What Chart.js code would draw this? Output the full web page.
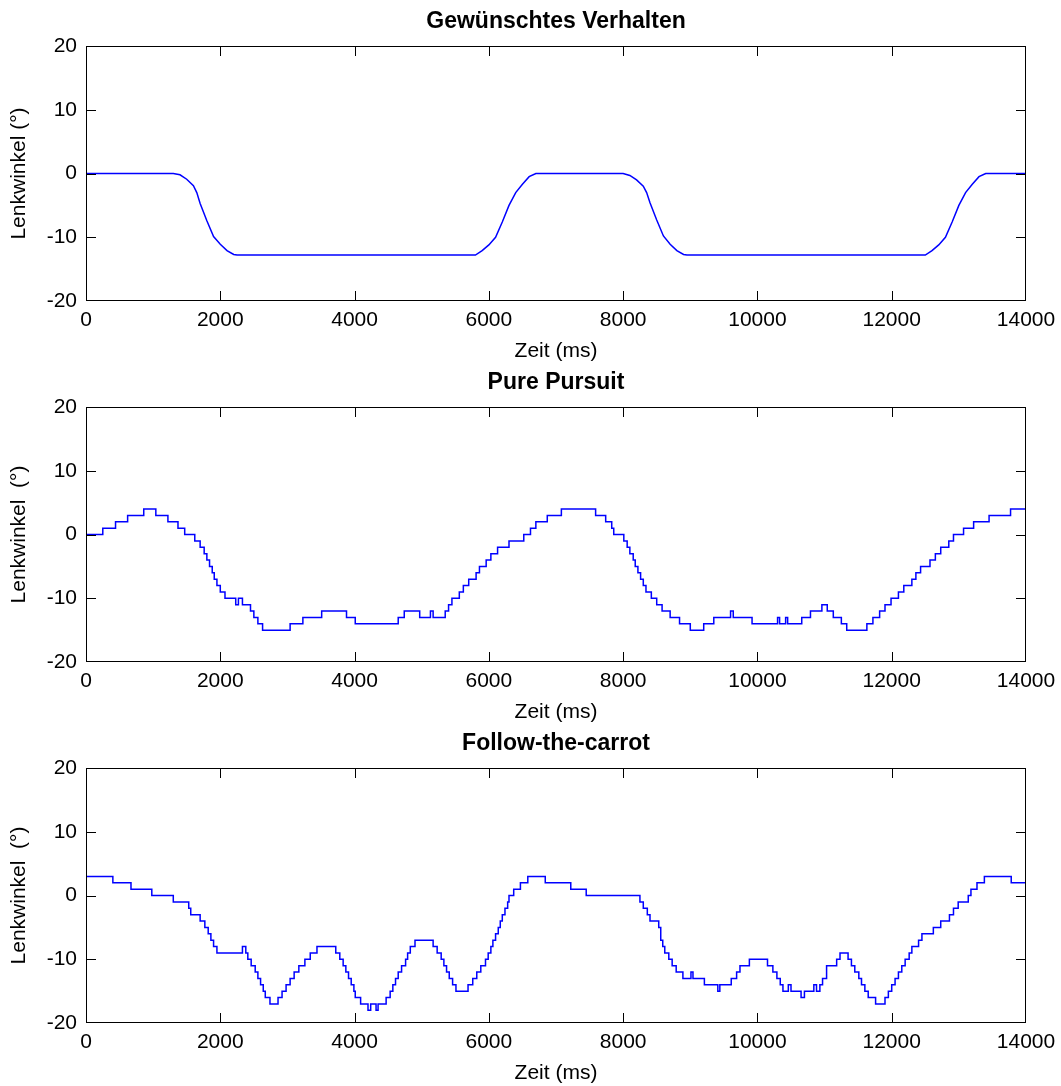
<!DOCTYPE html>
<html>
<head>
<meta charset="utf-8">
<script src="https://cdn.jsdelivr.net/npm/chart.js@4"></script>
<style>
    body { margin: 0; background: #fff; }
    #wrap { position: relative; width: 1061px; height: 1086px; }
    canvas { position: absolute; left: 0; }
</style>
</head>
<body>
<div id="wrap">
    <canvas id="c0" width="1061" height="361" style="top:0"></canvas>
    <canvas id="c1" width="1061" height="361" style="top:361px"></canvas>
    <canvas id="c2" width="1061" height="361" style="top:722px"></canvas>
</div>
<script>
const chartTitles = ["Gewünschtes Verhalten", "Pure Pursuit", "Follow-the-carrot"]
const yLabels = ["Lenkwinkel (°)", "Lenkwinkel  (°)", "Lenkwinkel  (°)"]
const xLabel = "Zeit (ms)"
const xTickValues = [0, 2000, 4000, 6000, 8000, 10000, 12000, 14000]
const yTickValues = [-20, -10, 0, 10, 20]

// desired steering angle (smooth)
const desiredTime = [0, 1300, 1400, 1500, 1600, 1650, 1700, 1800, 1900, 2000, 2100, 2200, 2250,
    5800, 5900, 6000, 6100, 6200, 6300, 6400, 6500, 6600, 6700,
    8000, 8100, 8200, 8300, 8350, 8400, 8500, 8600, 8700, 8800, 8900, 8950,
    12500, 12600, 12700, 12800, 12900, 13000, 13100, 13200, 13300, 13400, 14000]
const desiredAngle = [0, 0, -0.2, -0.9, -1.9, -3, -4.7, -7.4, -9.9, -11.1, -12.1, -12.7, -12.8,
    -12.8, -12.1, -11.2, -10, -7.6, -5, -3, -1.7, -0.5, 0,
    0, -0.3, -1, -2, -3, -4.6, -7.3, -9.8, -11.1, -12.1, -12.7, -12.8,
    -12.8, -12.1, -11.2, -10, -7.6, -5, -3, -1.7, -0.5, 0, 0]

// pure pursuit (each entry = start of a plateau)
const pursuitTime = [0, 250, 440, 620, 860, 1040, 1220, 1370, 1470, 1620, 1700, 1760, 1800, 1840,
    1880, 1910, 1950, 2000, 2070, 2230, 2270, 2330, 2450, 2500, 2560, 2630, 3040, 3230, 3510,
    3880, 4010, 4650, 4740, 4970, 5130, 5170, 5350, 5400, 5450, 5560, 5620, 5700, 5810, 5860,
    5960, 6030, 6130, 6300, 6520, 6620, 6700, 6870, 7080, 7590, 7740, 7830, 7860, 8010, 8060,
    8100, 8150, 8180, 8220, 8260, 8300, 8340, 8420, 8500, 8580, 8700, 8840, 9000, 9200, 9350,
    9600, 9640, 9920, 10300, 10330, 10420, 10450, 10660, 10790, 10960, 11040, 11130, 11250,
    11330, 11630, 11720, 11820, 11900, 11990, 12100, 12180, 12300, 12360, 12430, 12570, 12650,
    12730, 12850, 12920, 13070, 13220, 13450, 13770, 14000]
const pursuitAngle = [0, 1, 2, 3, 4, 3, 2, 1, 0, -1, -2, -3, -4, -5,
    -6, -7, -8, -9, -10, -11, -10, -11, -12, -13, -14, -15, -14, -13, -12,
    -13, -14, -13, -12, -13, -12, -13, -12, -11, -10, -9, -8, -7, -6, -5,
    -4, -3, -2, -1, 0, 1, 2, 3, 4, 3, 2, 1, 0, -1, -2,
    -3, -4, -5, -6, -7, -8, -9, -10, -11, -12, -13, -14, -15, -14, -13,
    -12, -13, -14, -13, -14, -13, -14, -13, -12, -11, -12, -13, -14,
    -15, -14, -13, -12, -11, -10, -9, -8, -7, -6, -5, -4, -3,
    -2, -1, 0, 1, 2, 3, 4, 4]

// follow-the-carrot (each entry = start of a plateau)
const carrotTime = [0, 400, 670, 980, 1300, 1530, 1560, 1700, 1770, 1820, 1860, 1900, 1950,
    2330, 2380, 2410, 2460, 2520, 2560, 2600, 2640, 2670, 2740, 2860, 2920, 2980, 3040, 3100,
    3170, 3260, 3340, 3440, 3720, 3780, 3830, 3870, 3910, 3950, 3990, 4010, 4090, 4200, 4240,
    4320, 4350, 4470, 4530, 4570, 4610, 4650, 4700, 4760, 4790, 4830, 4900, 5170, 5230, 5290,
    5330, 5370, 5410, 5460, 5510, 5690, 5760, 5820, 5880, 5950, 5990, 6030, 6060, 6100, 6140,
    6170, 6200, 6240, 6280, 6300, 6370, 6470, 6580, 6840, 7220, 7450, 8250, 8300, 8360, 8400,
    8530, 8560, 8590, 8620, 8680, 8730, 8790, 8890, 9010, 9040, 9210, 9410, 9440, 9610, 9690,
    9740, 9880, 10150, 10230, 10290, 10340, 10380, 10460, 10500, 10650, 10700, 10840, 10880,
    10930, 10970, 11030, 11180, 11230, 11350, 11400, 11450, 11510, 11550, 11600, 11650, 11760,
    11900, 11950, 12000, 12050, 12100, 12150, 12200, 12260, 12300, 12400, 12450, 12620, 12730,
    12860, 12920, 12990, 13140, 13180, 13270, 13380, 13780, 14000]
const carrotAngle = [3, 2, 1, 0, -1, -2, -3, -4, -5, -6, -7, -8, -9,
    -8, -9, -10, -11, -12, -13, -14, -15, -16, -17, -16, -15, -14, -13, -12,
    -11, -10, -9, -8, -9, -10, -11, -12, -13, -14, -15, -16, -17, -18, -17,
    -18, -17, -16, -15, -14, -13, -12, -11, -10, -9, -8, -7, -8, -9, -10,
    -11, -12, -13, -14, -15, -14, -13, -12, -11, -10, -9, -8, -7, -6, -5,
    -4, -3, -2, -1, 0, 1, 2, 3, 2, 1, 0, -1, -2, -3, -4,
    -5, -7, -8, -9, -10, -11, -12, -13, -12, -13, -14, -15, -14, -13, -12,
    -11, -10, -11, -12, -13, -14, -15, -14, -15, -16, -15, -14, -15,
    -14, -13, -11, -10, -9, -10, -11, -12, -13, -14, -15, -16, -17,
    -16, -15, -14, -13, -12, -11, -10, -9, -8, -7, -6, -5, -4,
    -3, -2, -1, 0, 1, 2, 3, 2, 2]

const series = [
    [desiredTime, desiredAngle, false],
    [pursuitTime, pursuitAngle, 'before'],
    [carrotTime, carrotAngle, 'before'],
]

Chart.defaults.color = "#000"
Chart.defaults.font.family = "'Liberation Sans', Arial, sans-serif"

// MATLAB style box with inward ticks on all four sides
const boxTicks = {
    id: "boxTicks",
    afterDatasetsDraw(chart) {
        const {ctx, chartArea: a, scales: {x, y}} = chart
        ctx.save()
        ctx.strokeStyle = "#000"
        ctx.lineWidth = 1
        ctx.beginPath()
        ctx.rect(a.left + 0.5, a.top + 0.5, a.right - a.left - 1, a.bottom - a.top - 1)
        for(let v of xTickValues) {
            const px = Math.min(Math.round(x.getPixelForValue(v)), Math.round(a.right) - 1) + 0.5
            ctx.moveTo(px, a.bottom)
            ctx.lineTo(px, a.bottom - 10)
            ctx.moveTo(px, a.top)
            ctx.lineTo(px, a.top + 10)
        }
        for(let v of yTickValues) {
            const py = Math.min(Math.round(y.getPixelForValue(v)), Math.round(a.bottom) - 1) + 0.5
            ctx.moveTo(a.left, py)
            ctx.lineTo(a.left + 10, py)
            ctx.moveTo(a.right, py)
            ctx.lineTo(a.right - 10, py)
        }
        ctx.stroke()
        ctx.restore()
    }
}

series.forEach(([times, angles, stepped], i) => {
    new Chart(document.getElementById("c" + i), {
        type: "line",
        data: {
            datasets: [{
                data: times.map((t, j) => ({x: t, y: angles[j]})),
                borderColor: "#0000ff",
                borderWidth: 1.5,
                pointRadius: 0,
                stepped: stepped,
                tension: 0,
            }]
        },
        options: {
            responsive: false,
            animation: false,
            layout: {padding: {left: 0, right: 35, top: 0, bottom: 0}},
            plugins: {
                legend: {display: false},
                tooltip: {enabled: false},
                title: {
                    display: true,
                    text: chartTitles[i],
                    fullSize: false,
                    font: {size: 23, weight: "bold"},
                    padding: {top: 8, bottom: 10.4},
                },
            },
            scales: {
                x: {
                    type: "linear",
                    min: 0,
                    max: 14000,
                    afterBuildTicks: s => { s.ticks = xTickValues.map(v => ({value: v})) },
                    afterFit: s => { s.height = 60; s.paddingRight = 0; s.paddingLeft = 0 },
                    grid: {display: false, drawTicks: false},
                    border: {display: false},
                    ticks: {font: {size: 21}, padding: 7, maxRotation: 0, autoSkip: false, callback: v => String(v)},
                    title: {display: true, text: xLabel, font: {size: 21}, padding: {top: 0, bottom: -3}},
                },
                y: {
                    min: -20,
                    max: 20,
                    afterBuildTicks: s => { s.ticks = yTickValues.map(v => ({value: v})) },
                    afterFit: s => { s.width = 86 },
                    grid: {display: false, drawTicks: false},
                    border: {display: false},
                    ticks: {font: {size: 21}, padding: 9, callback: v => String(v)},
                    title: {display: true, text: yLabels[i], font: {size: 21}, padding: {top: 7, bottom: 0}},
                },
            },
        },
        plugins: [boxTicks],
    })
})
</script>
</body>
</html>
